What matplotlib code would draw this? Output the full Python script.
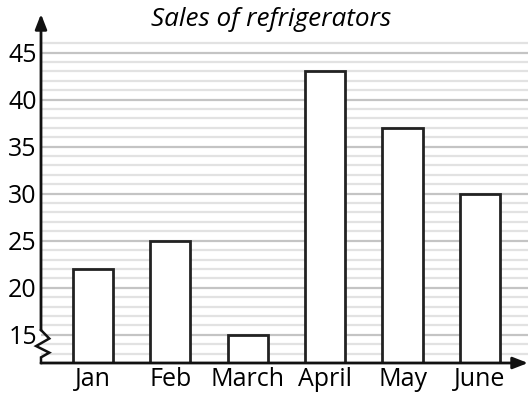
import matplotlib
matplotlib.use('Agg')
import matplotlib.pyplot as plt
from matplotlib.ticker import FixedLocator
import matplotlib.transforms as mtransforms

# data
months = ['Jan', 'Feb', 'March', 'April', 'May', 'June']
sales = [22, 25, 15, 43, 37, 30]
major_ticks = [15, 20, 25, 30, 35, 40, 45]

plt.rcParams['font.family'] = ['Open Sans', 'DejaVu Sans']
fs = 18
y0, y1 = 12, 49.1
brk = 15.5  # where the y axis line breaks

fig = plt.figure(figsize=(5.28, 4.01), dpi=100)
ax = fig.add_axes([41 / 528, 38 / 401, 487 / 528, 349 / 401])

x = list(range(len(months)))
ax.bar(x, sales, width=0.52, bottom=0, color='white', edgecolor='#222222',
       linewidth=2, zorder=3)

ax.set_xlim(-0.67, 5.62)
ax.set_ylim(y0, y1)

# grid
ax.yaxis.set_major_locator(FixedLocator(major_ticks))
ax.yaxis.set_minor_locator(FixedLocator(list(range(13, 47))))
ax.grid(which='minor', axis='y', color='#e2e2e2', linewidth=1.6, zorder=0)
ax.grid(which='major', axis='y', color='#c4c4c4', linewidth=1.6, zorder=1)
ax.tick_params(axis='y', which='both', length=0, labelsize=fs, pad=3)
ax.tick_params(axis='x', length=0, labelsize=fs, pad=3)
ax.set_xticks(x)
ax.set_xticklabels(months)
for s in ax.spines.values():
    s.set_visible(False)

arrow = dict(arrowstyle='-|>,head_length=0.9,head_width=0.35',
             color='#111111', lw=2, shrinkA=0, shrinkB=0)

# y axis (starts above the break), x axis
ax.annotate('', xy=(0, 1), xytext=(0, (brk - y0) / (y1 - y0)),
            xycoords='axes fraction', arrowprops=arrow, zorder=6)
ax.annotate('', xy=(1, 0), xytext=(0, 0), xycoords='axes fraction',
            arrowprops=arrow, zorder=6)

# zigzag break
trans = mtransforms.blended_transform_factory(ax.transAxes, ax.transData)
zx = [0, 0.017, -0.010, 0.017, 0, 0]
zy = [brk, 14.6, 13.8, 13.1, 12.6, y0]
ax.plot(zx, zy, color='#111111', lw=1.8, transform=trans, clip_on=False,
        zorder=5, solid_joinstyle='miter')

fig.text(0.513, 0.952, 'Sales of refrigerators', ha='center', va='center',
         fontsize=18.8, style='italic')

fig.savefig('out.png', dpi=100)
